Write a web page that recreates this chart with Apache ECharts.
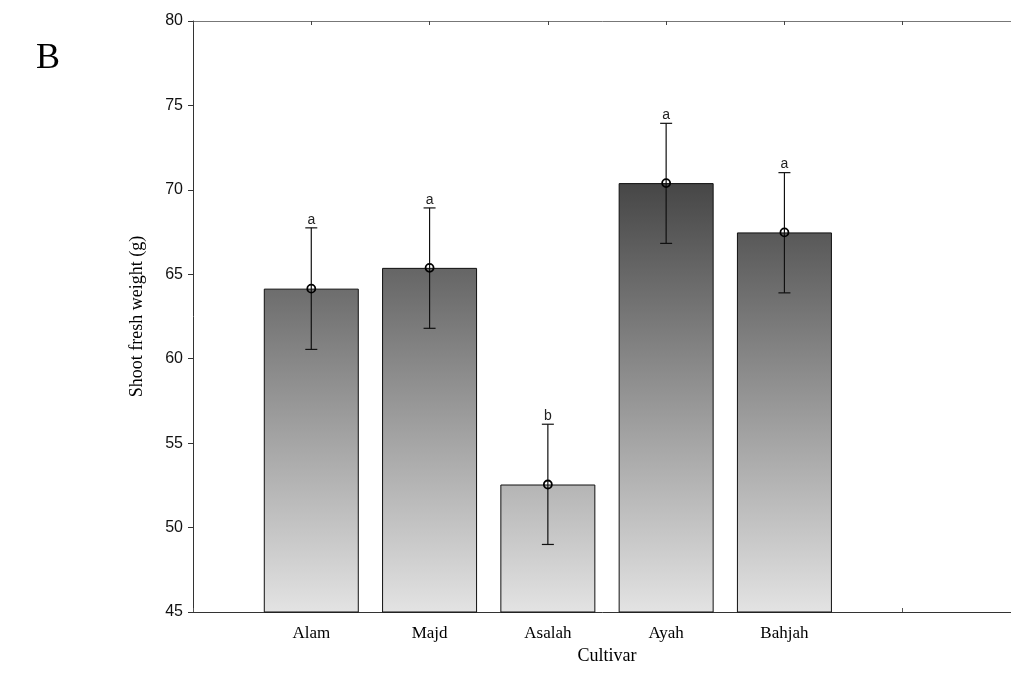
<!DOCTYPE html>
<html>
<head>
<meta charset="utf-8">
<script src="https://cdn.jsdelivr.net/npm/echarts@6/dist/echarts.min.js"></script>
<style>html,body{margin:0;padding:0;background:#fff;}#c{width:1011px;height:682px;}</style>
</head>
<body>
<div id="c"></div>
<script>
const categories = ['Alam', 'Majd', 'Asalah', 'Ayah', 'Bahjah'];
const means = [64.15, 65.38, 52.55, 70.40, 67.48];
const upper = [67.75, 68.93, 56.12, 73.94, 71.02];
const lower = [60.55, 61.80, 49.00, 66.83, 63.90];
const letters = ['a', 'a', 'b', 'a', 'a'];
const yTicks = [45, 50, 55, 60, 65, 70, 75, 80];

const chart = echarts.init(document.getElementById('c'));
const barData = categories.map((c, i) => [i + 1, means[i]]);
const errData = categories.map((c, i) => [i + 1, means[i], lower[i], upper[i], i]);
const xMax = 7;

const option = {
  animation: false,
  grid: { left: 193, top: 21, bottom: 70, right: -10, outerBoundsMode: 'none', containLabel: false },
  graphic: [{
    type: 'text', left: 36, top: 41,
    style: { text: 'B', font: '36px "Liberation Serif", serif', fill: '#000' }
  }],
  xAxis: [{
    type: 'value', min: 0, max: xMax, interval: 1, position: 'bottom',
    name: 'Cultivar', nameLocation: 'middle', nameGap: 25,
    nameTextStyle: { fontFamily: 'Liberation Serif', fontSize: 18, color: '#000' },
    axisLine: { show: true, lineStyle: { color: '#333', width: 1 } },
    axisTick: { show: true, inside: true, length: 4, lineStyle: { color: '#555' } },
    axisLabel: {
      margin: 13, fontFamily: 'Liberation Serif', fontSize: 17, color: '#000',
      formatter: v => categories[v - 1] || ''
    },
    splitLine: { show: false }
  }, {
    type: 'value', min: 0, max: xMax, interval: 1, position: 'top',
    axisLine: { show: true, lineStyle: { color: '#777', width: 1 } },
    axisTick: { show: true, inside: true, length: 4, lineStyle: { color: '#444' } },
    axisLabel: { show: false },
    splitLine: { show: false }
  }],
  yAxis: {
    type: 'value', min: 45, max: 80, interval: 5,
    name: 'Shoot fresh weight (g)', nameLocation: 'middle', nameGap: 47,
    nameTextStyle: { fontFamily: 'Liberation Serif', fontSize: 18, color: '#000' },
    axisLine: { show: true, lineStyle: { color: '#333', width: 1 } },
    axisTick: { show: true, inside: false, length: 5, lineStyle: { color: '#333' } },
    axisLabel: {
      margin: 10, fontFamily: 'Liberation Sans', fontSize: 16, color: '#111',
      formatter: v => yTicks.includes(v) ? String(v) : ''
    },
    splitLine: { show: false }
  },
  series: [{
    type: 'bar',
    data: barData,
    barWidth: 95,
    itemStyle: {
      borderColor: '#111', borderWidth: 1,
      color: {
        type: 'linear', x: 0, y: 21, x2: 0, y2: 612, global: true,
        colorStops: [{ offset: 0, color: '#0b0b0b' }, { offset: 1, color: '#e3e3e3' }]
      }
    }
  }, {
    type: 'custom',
    data: errData,
    z: 10,
    renderItem: function (params, api) {
      const x = api.value(0);
      const m = api.coord([x, api.value(1)]);
      const lo = api.coord([x, api.value(2)]);
      const hi = api.coord([x, api.value(3)]);
      const idx = api.value(4);
      const cw = 6;
      const ls = { stroke: '#111', lineWidth: 1.2 };
      return {
        type: 'group',
        children: [
          { type: 'line', shape: { x1: m[0], y1: hi[1], x2: m[0], y2: lo[1] }, style: ls },
          { type: 'line', shape: { x1: m[0] - cw, y1: hi[1], x2: m[0] + cw, y2: hi[1] }, style: ls },
          { type: 'line', shape: { x1: m[0] - cw, y1: lo[1], x2: m[0] + cw, y2: lo[1] }, style: ls },
          { type: 'circle', shape: { cx: m[0], cy: m[1], r: 4 }, style: { fill: 'none', stroke: '#000', lineWidth: 1.8 } },
          { type: 'text', x: m[0], y: hi[1] - 1,
            style: { text: letters[idx], font: '14px "Liberation Sans", sans-serif', fill: '#222', align: 'center', verticalAlign: 'bottom' } }
        ]
      };
    }
  }]
};
chart.setOption(option);
</script>
</body>
</html>
